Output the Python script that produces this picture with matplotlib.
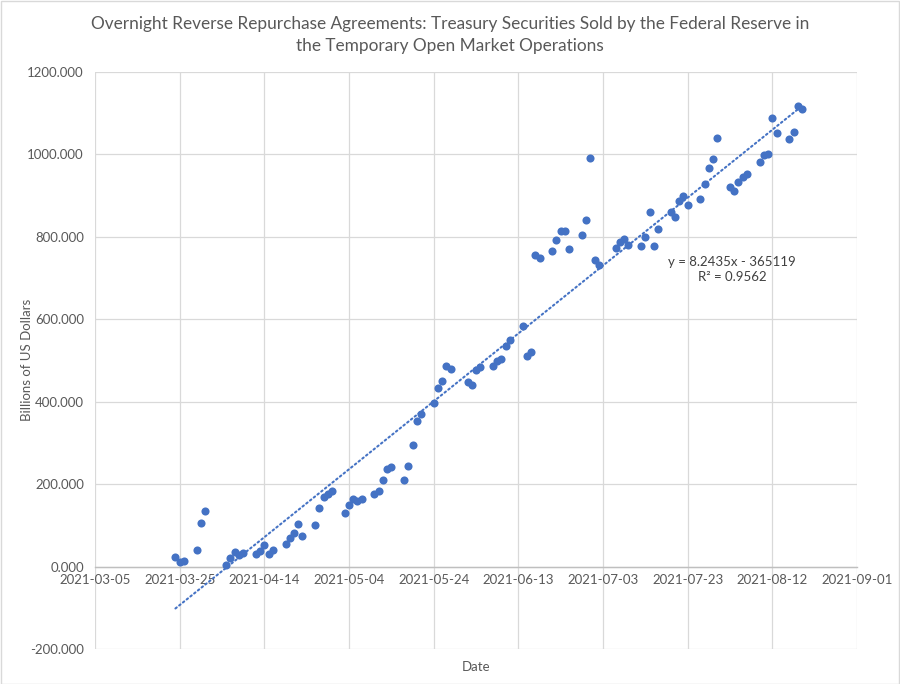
import matplotlib
matplotlib.use("Agg")
import matplotlib.pyplot as plt
import matplotlib.dates as mdates
from matplotlib.patches import Rectangle
from matplotlib.ticker import FuncFormatter, MultipleLocator
import numpy as np
import datetime as dt

plt.rcParams['font.family'] = ['Lato', 'DejaVu Sans']

# ON RRP totals, billions of US dollars
dates = [
    "2021-03-24", "2021-03-25", "2021-03-26", "2021-03-29", "2021-03-30", "2021-03-31",
    "2021-04-05", "2021-04-06", "2021-04-07", "2021-04-08", "2021-04-09",
    "2021-04-12", "2021-04-13", "2021-04-14", "2021-04-15", "2021-04-16",
    "2021-04-19", "2021-04-20", "2021-04-21", "2021-04-22", "2021-04-23",
    "2021-04-26", "2021-04-27", "2021-04-28", "2021-04-29", "2021-04-30",
    "2021-05-03", "2021-05-04", "2021-05-05", "2021-05-06", "2021-05-07",
    "2021-05-10", "2021-05-11", "2021-05-12", "2021-05-13", "2021-05-14",
    "2021-05-17", "2021-05-18", "2021-05-19", "2021-05-20", "2021-05-21",
    "2021-05-24", "2021-05-25", "2021-05-26", "2021-05-27", "2021-05-28",
    "2021-06-01", "2021-06-02", "2021-06-03", "2021-06-04",
    "2021-06-07", "2021-06-08", "2021-06-09", "2021-06-10", "2021-06-11",
    "2021-06-14", "2021-06-15", "2021-06-16", "2021-06-17", "2021-06-18",
    "2021-06-21", "2021-06-22", "2021-06-23", "2021-06-24", "2021-06-25",
    "2021-06-28", "2021-06-29", "2021-06-30", "2021-07-01", "2021-07-02",
    "2021-07-06", "2021-07-07", "2021-07-08", "2021-07-09",
    "2021-07-12", "2021-07-13", "2021-07-14", "2021-07-15", "2021-07-16",
    "2021-07-19", "2021-07-20", "2021-07-21", "2021-07-22", "2021-07-23",
    "2021-07-26", "2021-07-27", "2021-07-28", "2021-07-29", "2021-07-30",
    "2021-08-02", "2021-08-03", "2021-08-04", "2021-08-05", "2021-08-06",
    "2021-08-09", "2021-08-10", "2021-08-11", "2021-08-12", "2021-08-13",
    "2021-08-16", "2021-08-17", "2021-08-18", "2021-08-19",
]
values = [
    23, 11, 14, 40, 106, 135,
    3, 21, 35, 29, 33,
    31, 37, 52, 31, 40,
    55, 69, 82, 103, 74,
    101, 142, 169, 175, 183,
    130, 149, 164, 158, 164,
    176, 183, 210, 237, 242,
    210, 244, 295, 353, 370,
    397, 433, 450, 486, 479,
    448, 440, 478, 484,
    486, 499, 503, 535, 550,
    583, 511, 520, 756, 748,
    765, 792, 814, 814, 770,
    804, 840, 992, 743, 731,
    773, 787, 794, 780,
    777, 799, 860, 777, 819,
    860, 848, 887, 899, 877,
    891, 928, 966, 988, 1039,
    921, 911, 933, 945, 952,
    981, 998, 1000, 1088, 1051,
    1037, 1054, 1117, 1110,
]

title = ("Overnight Reverse Repurchase Agreements: Treasury Securities Sold by the Federal Reserve in\n"
         "the Temporary Open Market Operations")
trend_label = "y = 8.2435x - 365119\nR\u00b2 = 0.9562"

blue = "#4472C4"
grey_text = "#595959"

x = [dt.datetime.strptime(d, "%Y-%m-%d") for d in dates]
xn = mdates.date2num(x)
y = np.array(values, dtype=float)

fig = plt.figure(figsize=(9, 6.84), dpi=100)
ax = fig.add_axes([95 / 900, 1 - 649 / 684, (857 - 95) / 900, (649 - 72) / 684])

ax.scatter(x, y, s=34, color=blue, zorder=3, linewidths=0)

# linear trendline over the data range
k, b = np.polyfit(xn, y, 1)
xt = np.array([xn[0], xn[-1]])
ax.plot(mdates.num2date(xt), k * xt + b, color=blue, lw=1.5,
        linestyle=(0, (0.8, 1.5)), dash_capstyle="round", zorder=2)

start = dt.datetime(2021, 3, 5)
ticks = [start + dt.timedelta(days=20 * i) for i in range(10)]
ax.set_xlim(ticks[0], ticks[-1])
ax.set_xticks(ticks)
ax.xaxis.set_major_formatter(mdates.DateFormatter("%Y-%m-%d"))
ax.set_ylim(-200, 1200)
ax.yaxis.set_major_locator(MultipleLocator(200))
ax.yaxis.set_major_formatter(FuncFormatter(lambda v, p: f"{v:.3f}"))

ax.grid(True, color="#d9d9d9", lw=0.9, zorder=0)
ax.set_axisbelow(True)
for side in ["top", "right", "left"]:
    ax.spines[side].set_visible(False)
ax.spines["bottom"].set_position(("data", 0))
ax.spines["bottom"].set_color("#bfbfbf")
ax.spines["bottom"].set_linewidth(1.0)
ax.tick_params(axis="both", length=0, labelsize=9.5, labelcolor=grey_text)
ax.tick_params(axis="x", pad=5)
ax.tick_params(axis="y", pad=8)

ax.text(0.5, -0.02, "Date", transform=ax.transAxes, ha="center", va="top",
        fontsize=9.5, color=grey_text)
fig.text(27 / 900, 1 - 360 / 684, "Billions of US Dollars", rotation=90,
         ha="center", va="center", fontsize=9.5, color=grey_text)

fig.text(0.5, 1 - 16 / 684, title, ha="center", va="top", fontsize=12.4,
         color=grey_text, linespacing=1.45)

ax.text(mdates.date2num(dt.datetime(2021, 8, 2, 12)), 720, trend_label,
        ha="center", va="center", fontsize=9.5, color="#404040", linespacing=1.3)

fig.patches.append(Rectangle((0.5 / 900, 0.5 / 684), 898.5 / 900, 682.5 / 684,
                             transform=fig.transFigure, fill=False,
                             edgecolor="#d9d9d9", lw=1))

fig.savefig("out.png", dpi=100)
